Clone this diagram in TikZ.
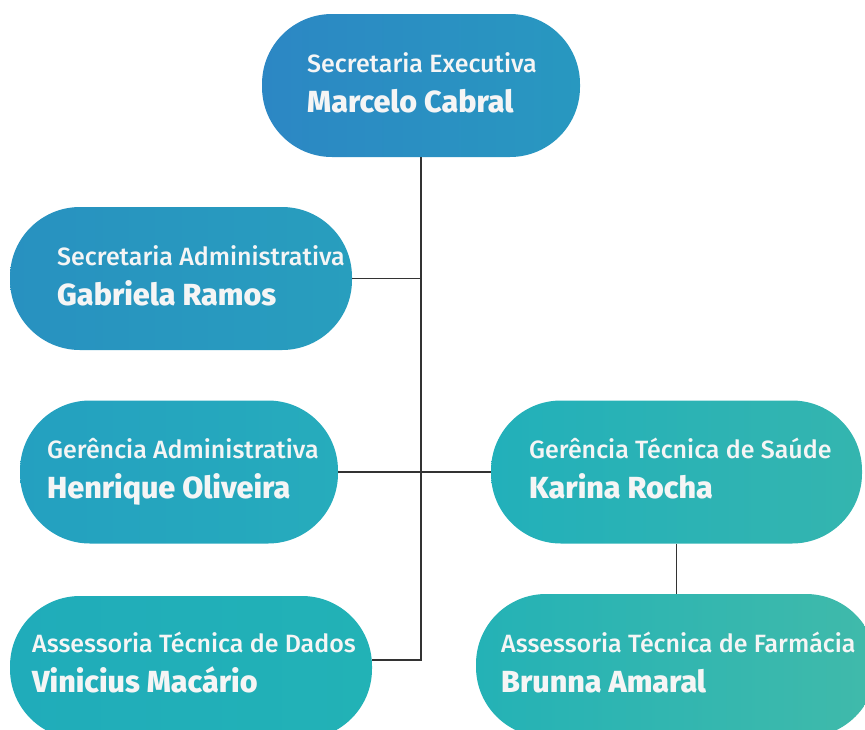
\documentclass[tikz,border=0pt]{standalone}
\usepackage{fontspec}
\setmainfont{Fira Sans}[UprightFont=* Medium, BoldFont=* ExtraBold]
\begin{document}
\begin{tikzpicture}[x=1pt,y=-1pt,
  pill/.style={rectangle, rounded corners=70pt, draw=none, minimum height=143pt, inner sep=0pt},
  role/.style={anchor=base west, inner sep=0pt, text=white!96!black, font=\fontsize{25}{28}\selectfont},
  who/.style={anchor=base west, inner sep=0pt, text=white!96!black, font=\fontsize{30.5}{34}\selectfont\bfseries},
  link/.style={draw=black!80, line width=1.2pt}]
\definecolor{cA}{RGB}{44,135,196}
\definecolor{cB}{RGB}{40,152,192}
\definecolor{cC}{RGB}{40,145,192}
\definecolor{cD}{RGB}{40,158,190}
\definecolor{cE}{RGB}{36,160,192}
\definecolor{cF}{RGB}{38,172,188}
\definecolor{cG}{RGB}{34,176,186}
\definecolor{cH}{RGB}{52,181,175}
\definecolor{cI}{RGB}{32,172,186}
\definecolor{cJ}{RGB}{34,178,182}
\definecolor{cK}{RGB}{36,178,182}
\definecolor{cL}{RGB}{64,186,170}
\useasboundingbox (0,0) rectangle (865,729);
\clip (0,0) rectangle (865,729);
% nodes
\node[pill, minimum width=318pt, left color=cA, right color=cB] (top) at (421,85.5) {};
\node[pill, minimum width=342pt, left color=cC, right color=cD] (sa) at (181,278.5) {};
\node[pill, minimum width=318pt, left color=cE, right color=cF] (ga) at (179,472) {};
\node[pill, minimum width=371pt, left color=cG, right color=cH] (gt) at (676.5,472) {};
\node[pill, minimum width=362pt, left color=cI, right color=cJ] (vin) at (191,667.5) {};
\node[pill, minimum width=400pt, left color=cK, right color=cL] (br) at (676,665.5) {};
% connectors
\coordinate (j3) at (421,660);
\draw[link] (top.south) -- (j3) -- (vin.east |- j3);
\draw[link] (sa.east) -- (sa.east -| top.south);
\draw[link] (ga.east) -- (gt.west);
\draw[link] (gt.south) -- (gt.south |- br.north);
% texts
\node[role] (t1) at (307,72) {Secretaria Executiva};
\node[who] (n1) at (307,112) {Marcelo Cabral};
\node[role] (t2) at (57,265) {Secretaria Administrativa};
\node[who] (n2) at (57,305) {Gabriela Ramos};
\node[role] (t3) at (47,458) {Gerência Administrativa};
\node[who] (n3) at (47,498) {Henrique Oliveira};
\node[role] (t4) at (529,458) {Gerência Técnica de Saúde};
\node[who] (n4) at (529,498) {Karina Rocha};
\node[role] (t5) at (32,652) {Assessoria Técnica de Dados};
\node[who] (n5) at (32,692) {Vinicius Macário};
\node[role] (t6) at (501,652) {Assessoria Técnica de Farmácia};
\node[who] (n6) at (501,692) {Brunna Amaral};
\end{tikzpicture}
\end{document}
